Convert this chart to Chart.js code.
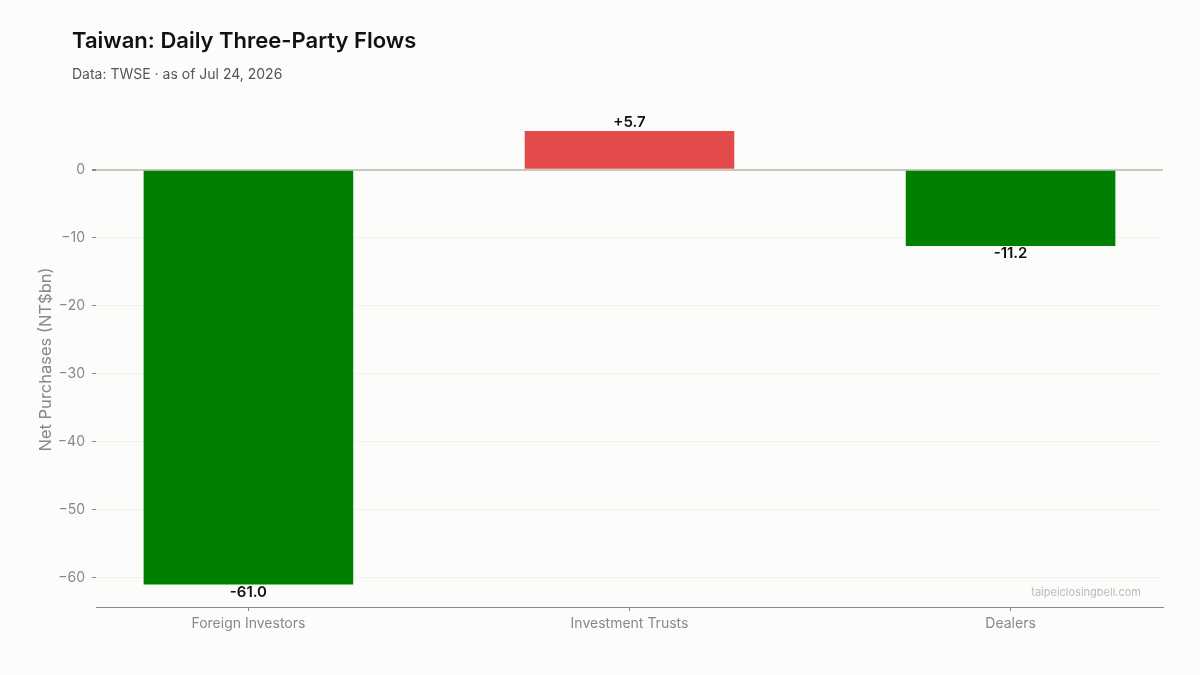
<!DOCTYPE html>
<html>
<head>
<meta charset="utf-8">
<script src="https://cdn.jsdelivr.net/npm/chart.js@4.4.1/dist/chart.umd.min.js"></script>
<style>
  html, body { margin: 0; padding: 0; background: #fcfcfa; }
  #wrap { width: 1200px; height: 675px; position: relative; }
</style>
</head>
<body>
<div id="wrap"><canvas id="flowChart"></canvas></div>
<script>
var categories = ["Foreign Investors", "Investment Trusts", "Dealers"];
var netFlows = [-61.0, 5.7, -11.2];
var yTicks = [0, -10, -20, -30, -40, -50, -60];

var FONT = "Inter, 'DejaVu Sans', sans-serif";

function barColor(v) {
    return v >= 0 ? "#e34b4b" : "#008000";
}

function fmtLabel(v) {
    return (v >= 0 ? "+" : "") + v.toFixed(1);
}

// title, subtitle, watermark, value labels
var decorPlugin = {
    id: "decor",
    beforeDraw: function (chart) {
        var ctx = chart.ctx;
        ctx.save();
        ctx.fillStyle = "#fcfcfa";
        ctx.fillRect(0, 0, chart.width, chart.height);
        ctx.restore();
    },
    afterDraw: function (chart) {
        var ctx = chart.ctx;
        ctx.save();
        ctx.textAlign = "left";
        ctx.textBaseline = "alphabetic";
        ctx.fillStyle = "#111";
        ctx.font = "600 22px " + FONT;
        ctx.fillText("Taiwan: Daily Three-Party Flows", 72, 48);
        ctx.fillStyle = "#555";
        ctx.font = "14px " + FONT;
        ctx.fillText("Data: TWSE \u00b7 as of Jul 24, 2026", 72, 79);

        ctx.fillStyle = "#bbb";
        ctx.font = "11px " + FONT;
        ctx.textAlign = "right";
        ctx.fillText("taipeiclosingbell.com", chart.chartArea.right - 22, 596);

        var meta = chart.getDatasetMeta(0);
        ctx.fillStyle = "#111";
        ctx.font = "600 15px " + FONT;
        ctx.textAlign = "center";
        meta.data.forEach(function (bar, i) {
            var v = netFlows[i];
            if (v >= 0) {
                ctx.textBaseline = "bottom";
                ctx.fillText(fmtLabel(v), bar.x, bar.y - 1);
            } else {
                ctx.textBaseline = "top";
                ctx.fillText(fmtLabel(v), bar.x, bar.y + 0);
            }
        });
        ctx.restore();
    }
};

new Chart(document.getElementById("flowChart"), {
    type: "bar",
    data: {
        datasets: [{
            data: netFlows.map(function (v, i) { return {x: i, y: v}; }),
            backgroundColor: netFlows.map(barColor),
            borderWidth: 0,
            barPercentage: 0.55,
            categoryPercentage: 1.0
        }]
    },
    plugins: [decorPlugin],
    options: {
        responsive: true,
        maintainAspectRatio: false,
        animation: false,
        layout: {
            padding: {top: 112, right: 37, bottom: 0, left: 0}
        },
        plugins: {
            legend: {display: false},
            tooltip: {enabled: false}
        },
        scales: {
            x: {
                type: "linear",
                min: -0.4,
                max: 2.4,
                offset: false,
                afterBuildTicks: function (scale) {
                    scale.ticks = categories.map(function (c, i) { return {value: i}; });
                },
                afterFit: function (scale) { scale.height = 68; },
                border: {display: true, color: "#888", width: 1},
                grid: {offset: false, drawOnChartArea: false, drawTicks: true, tickLength: 4, tickColor: "#888"},
                ticks: {
                    color: "#888",
                    font: {family: FONT, size: 14},
                    padding: 4,
                    callback: function (v) { return categories[v]; }
                }
            },
            y: {
                min: -64.3,
                max: 8.5,
                afterBuildTicks: function (scale) {
                    scale.ticks = yTicks.map(function (t) { return {value: t}; });
                },
                afterFit: function (scale) { scale.width = 96; },
                border: {display: false},
                grid: {
                    color: function (c) { return c.tick && c.tick.value === 0 ? "#c8c8c0" : "#f2f2ee"; },
                    lineWidth: function (c) { return c.tick && c.tick.value === 0 ? 2 : 1; },
                    drawTicks: true,
                    tickLength: 4,
                    tickColor: "#888"
                },
                ticks: {
                    color: "#888",
                    font: {family: FONT, size: 14},
                    padding: 7,
                    callback: function (v) { return v < 0 ? "\u2212" + Math.abs(v) : String(v); }
                },
                title: {
                    display: true,
                    text: "Net Purchases (NT$bn)",
                    color: "#888",
                    font: {family: FONT, size: 16.5},
                    padding: {top: 36, bottom: 0}
                }
            }
        }
    }
});
</script>
</body>
</html>
